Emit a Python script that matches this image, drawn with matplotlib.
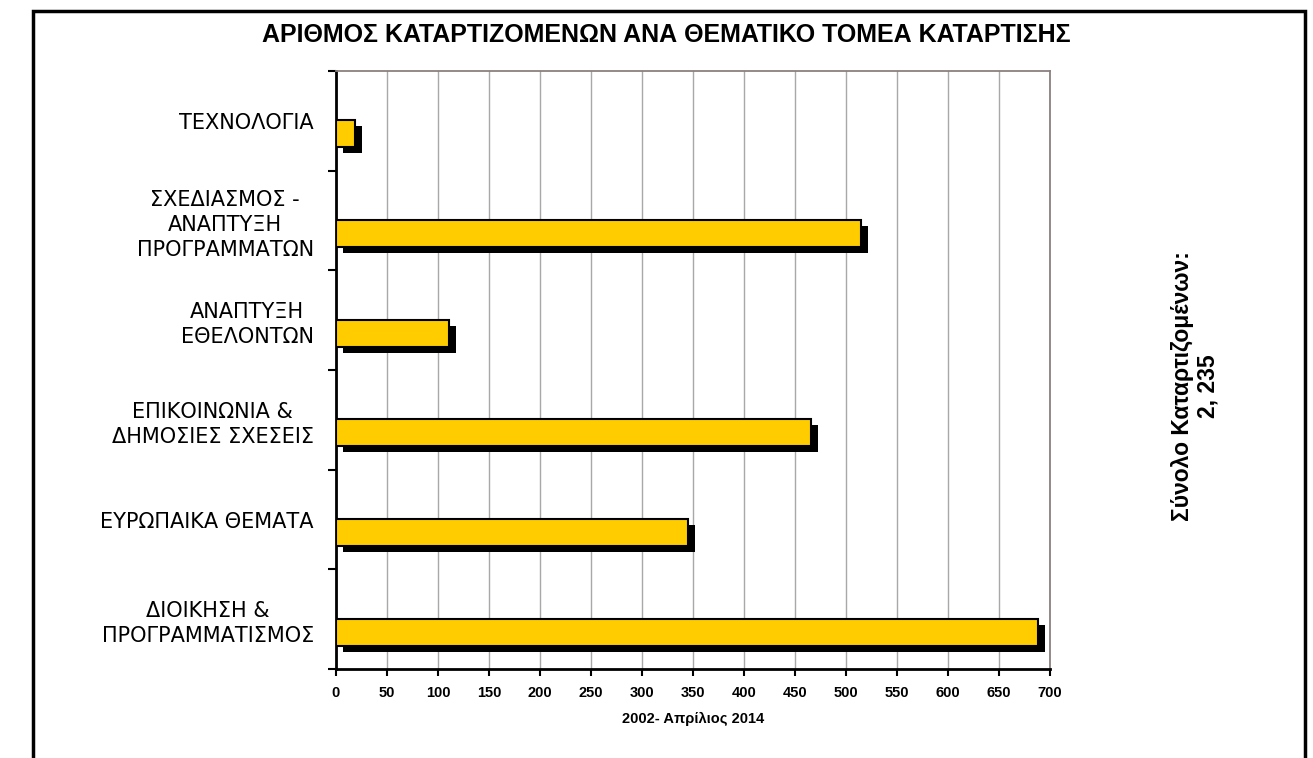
import matplotlib
matplotlib.use('Agg')
import matplotlib.pyplot as plt
from matplotlib.patches import Rectangle
from matplotlib.transforms import ScaledTranslation

plt.rcParams['font.family'] = ['Liberation Sans', 'DejaVu Sans']

# data, top to bottom as in the chart
categories = [
    'ΤΕΧΝΟΛΟΓΙΑ',
    'ΣΧΕΔΙΑΣΜΟΣ -\nΑΝΑΠΤΥΞΗ\nΠΡΟΓΡΑΜΜΑΤΩΝ',
    'ΑΝΑΠΤΥΞΗ\nΕΘΕΛΟΝΤΩΝ',
    'ΕΠΙΚΟΙΝΩΝΙΑ &\nΔΗΜΟΣΙΕΣ ΣΧΕΣΕΙΣ',
    'ΕΥΡΩΠΑΙΚΑ ΘΕΜΑΤΑ',
    'ΔΙΟΙΚΗΣΗ &\nΠΡΟΓΡΑΜΜΑΤΙΣΜΟΣ',
]
trainees = [19, 515, 111, 466, 345, 688]
x_ticks = list(range(0, 701, 50))

title = 'ΑΡΙΘΜΟΣ ΚΑΤΑΡΤΙΖΟΜΕΝΩΝ ΑΝΑ ΘΕΜΑΤΙΚΟ ΤΟΜΕΑ ΚΑΤΑΡΤΙΣΗΣ'
x_label = '2002- Απρίλιος 2014'
total_note = 'Σύνολο Καταρτιζομένων:\n2, 235'

W, H = 1313, 758
fig = plt.figure(figsize=(W / 100, H / 100), dpi=100)
ax = fig.add_axes([336 / W, 1 - 669 / H, (1050 - 336) / W, (669 - 71) / H])

pos = list(range(len(categories)))
bar_pos = [p + 0.13 for p in pos]
bar_h = 0.27

# shadow first, shifted right/down
shadow = ScaledTranslation(7 / 100, -6 / 100, fig.dpi_scale_trans)
ax.barh(bar_pos, trainees, height=bar_h, color='black', zorder=2,
        transform=ax.transData + shadow)
ax.barh(bar_pos, trainees, height=bar_h, color='#FFCC00',
        edgecolor='black', linewidth=1.5, zorder=3)

ax.set_xlim(0, 700)
ax.set_ylim(len(categories) - 0.5, -0.5)

ax.set_xticks(x_ticks)
ax.set_xticklabels([str(t) for t in x_ticks], fontsize=10.5, fontweight='bold')
ax.tick_params(axis='x', direction='out', length=5, width=1.5, pad=7)
ax.grid(axis='x', color='#a8a8a8', linewidth=1, zorder=0)
ax.set_axisbelow(True)

# boundaries as major ticks, names as minor ticks
ax.set_yticks([p - 0.5 for p in pos] + [len(pos) - 0.5])
ax.set_yticklabels([])
ax.tick_params(axis='y', which='major', direction='out', length=6, width=1.5)
ax.set_yticks(pos, minor=True)
ax.set_yticklabels(categories, minor=True, fontsize=15, linespacing=1.3,
                   multialignment='center', family=['DejaVu Sans'])
ax.tick_params(axis='y', which='minor', length=0, pad=16)

ax.set_xlabel(x_label, fontsize=10.5, fontweight='bold', labelpad=9)

for side in ['left', 'bottom']:
    ax.spines[side].set_linewidth(2)
    ax.spines[side].set_color('black')
for side in ['top', 'right']:
    ax.spines[side].set_linewidth(1.3)
    ax.spines[side].set_color('#8c8080')

fig.text(666 / W, 1 - 35 / H, title, ha='center', va='center',
         fontsize=18, fontweight='bold')
fig.text(1195 / W, 1 - 386 / H, total_note, ha='center', va='center',
         rotation=90, fontsize=16.5, fontweight='bold', linespacing=1.15)

fig.add_artist(Rectangle((33 / W, -0.02), (1305 - 33) / W, 1.02 - 11 / H,
                         transform=fig.transFigure, fill=False,
                         edgecolor='black', linewidth=2.5))

fig.savefig('out.png', dpi=100)
